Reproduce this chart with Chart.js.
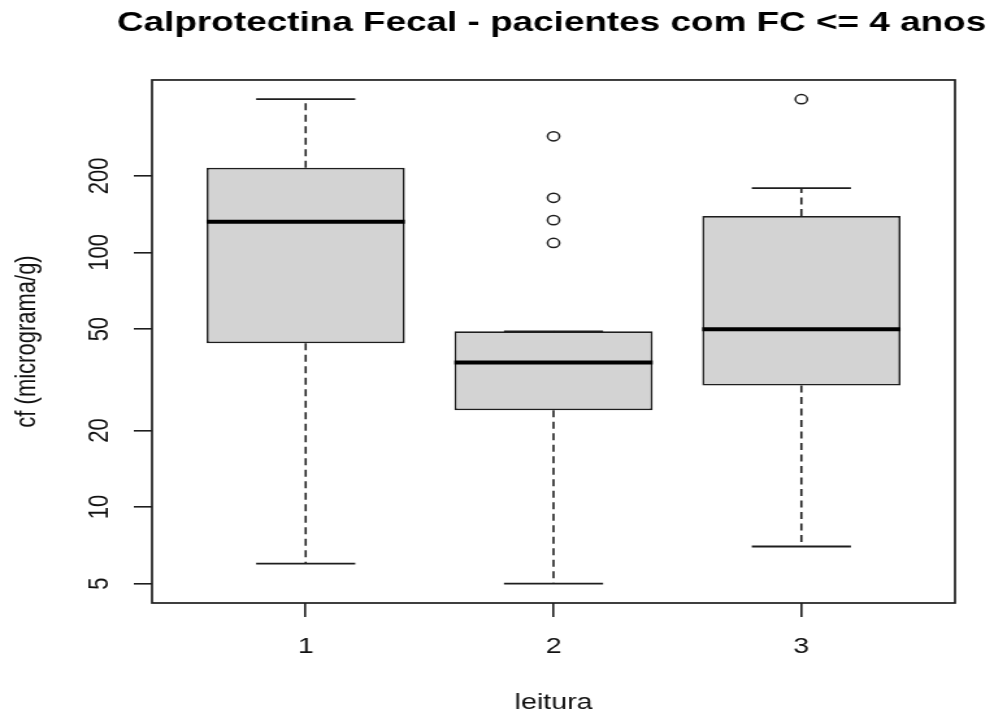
<!DOCTYPE html>
<html>
<head>
<meta charset="utf-8">
<script src="https://cdn.jsdelivr.net/npm/chart.js@4.4.1/dist/chart.umd.min.js"></script>
<style>
  html, body { margin: 0; padding: 0; background: #fff; }
  /* the reference is a horizontally stretched R plot, so the canvas is drawn narrow and stretched */
  #myChart { width: 994px !important; height: 716px !important; display: block; }
</style>
</head>
<body>
<canvas id="myChart" width="765" height="716" style="width:994px;height:716px;"></canvas>
<script>
// boxplot summary per group (log scale)
const categories = ['1', '2', '3'];
const positions = [1, 2, 3];
const whiskerLow = [6, 5, 7];
const q1 = [44, 24, 30];
const median = [132, 37, 50];
const q3 = [215, 49, 139];
const whiskerHigh = [400, 49, 179];
const outliers = [[], [286, 164, 134, 109], [400]];
const yTicks = [5, 10, 20, 50, 100, 200];

const boxWidth = 0.8;
const capWidth = boxWidth / 2;
const ink = '#1e1e1e';

function segment(points, dashed, width) {
  return {
    type: 'line',
    data: points,
    borderColor: ink,
    borderWidth: width,
    borderDash: dashed ? [7, 4.5] : [],
    pointRadius: 0,
    fill: false,
    order: dashed ? 2 : 1
  };
}

function createChart () {
  const ctx = document.getElementById('myChart').getContext('2d');

  const datasets = [];

  // the boxes are floating bars from q1 to q3
  datasets.push({
    type: 'bar',
    data: positions.map((p, i) => ({x: p, y: [q1[i], q3[i]]})),
    backgroundColor: '#d3d3d3',
    borderColor: ink,
    borderWidth: 1.7,
    borderSkipped: false,
    barPercentage: boxWidth,
    categoryPercentage: 1,
    order: 3
  });

  for (let i = 0; i < positions.length; i++) {
    const p = positions[i];
    datasets.push(segment([{x: p, y: q3[i]}, {x: p, y: whiskerHigh[i]}], true, 1.6));
    datasets.push(segment([{x: p, y: q1[i]}, {x: p, y: whiskerLow[i]}], true, 1.6));
    datasets.push(segment([{x: p - capWidth / 2, y: whiskerHigh[i]}, {x: p + capWidth / 2, y: whiskerHigh[i]}], false, 1.8));
    datasets.push(segment([{x: p - capWidth / 2, y: whiskerLow[i]}, {x: p + capWidth / 2, y: whiskerLow[i]}], false, 1.8));
    const med = segment([{x: p - boxWidth / 2, y: median[i]}, {x: p + boxWidth / 2, y: median[i]}], false, 4);
    med.borderColor = '#000';
    med.order = 0;
    datasets.push(med);
  }

  const outlierPoints = [];
  for (let i = 0; i < positions.length; i++) {
    outliers[i].forEach(v => outlierPoints.push({x: positions[i], y: v}));
  }
  datasets.push({
    type: 'scatter',
    data: outlierPoints,
    pointStyle: 'circle',
    pointRadius: 4.6,
    pointBorderWidth: 1.5,
    pointBorderColor: ink,
    pointBackgroundColor: 'rgba(0,0,0,0)',
    order: 0
  });

  // box round the plot region, like R's box()
  const frame = {
    id: 'frame',
    afterDraw(chart) {
      const a = chart.chartArea;
      const c = chart.ctx;
      c.save();
      c.strokeStyle = ink;
      c.lineWidth = 1.7;
      c.strokeRect(a.left, a.top, a.right - a.left, a.bottom - a.top);
      c.restore();
    }
  };

  const chart = new Chart(ctx, {
    type: 'bar',
    data: { datasets: datasets },
    plugins: [frame],
    options: {
      responsive: false,
      devicePixelRatio: 1,
      animation: false,
      layout: { padding: { left: 0, right: 6, top: 0, bottom: 0 } },
      plugins: {
        legend: { display: false },
        tooltip: { enabled: false },
        title: {
          display: true,
          align: 'end',
          text: 'Calprotectina Fecal - pacientes com FC <= 4 anos',
          color: '#000',
          font: { family: 'Liberation Sans', size: 28.4, weight: 'bold' },
          padding: { top: 6, bottom: 39.9 }
        }
      },
      scales: {
        x: {
          type: 'linear',
          min: 0.38,
          max: 3.62,
          offset: false,
          afterBuildTicks: scale => { scale.ticks = positions.map(v => ({value: v})); },
          afterFit: scale => { scale.height = 113; },
          grid: { offset: false, drawOnChartArea: false, drawTicks: true, tickLength: 14, color: ink, lineWidth: 1.6 },
          border: { display: false },
          ticks: {
            autoSkip: false,
            maxRotation: 0,
            padding: 17,
            color: '#111',
            font: { family: 'Liberation Sans', size: 22 },
            callback: (v, i) => categories[i]
          },
          title: {
            display: true,
            text: 'leitura',
            color: '#111',
            font: { family: 'Liberation Sans', size: 22 },
            padding: { top: 0, bottom: 0 }
          }
        },
        y: {
          type: 'logarithmic',
          min: 4.2,
          max: 476,
          afterBuildTicks: scale => { scale.ticks = yTicks.map(v => ({value: v})); },
          afterFit: scale => { scale.width = 117; },
          grid: { drawOnChartArea: false, drawTicks: true, tickLength: 14, color: ink, lineWidth: 1.6 },
          border: { display: false },
          ticks: {
            autoSkip: false,
            minRotation: 90,
            maxRotation: 90,
            crossAlign: 'center',
            padding: 8,
            color: '#111',
            font: { family: 'Liberation Sans', size: 22 },
            callback: v => String(v)
          },
          title: {
            display: true,
            text: 'cf (micrograma/g)',
            color: '#111',
            font: { family: 'Liberation Sans', size: 22 },
            padding: { top: 8, bottom: 0 }
          }
        },
        // empty right margin, so the title can run past the plot's right edge
        margin: {
          type: 'linear',
          position: 'right',
          display: true,
          afterFit: scale => { scale.width = 24; },
          grid: { display: false },
          border: { display: false },
          ticks: { display: false }
        }
      }
    }
  });
}

createChart();
</script>
</body>
</html>
